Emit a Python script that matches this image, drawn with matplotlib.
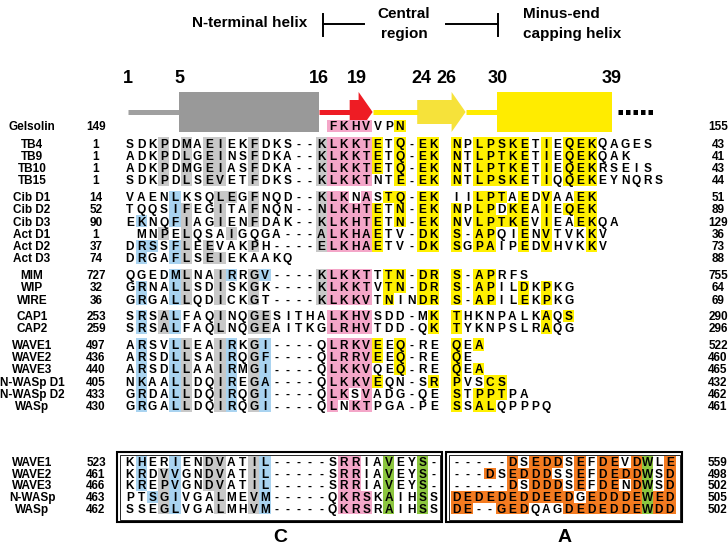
import matplotlib
matplotlib.use("Agg")
import matplotlib.pyplot as plt
from matplotlib.patches import Rectangle, Polygon

plt.rcParams['font.family'] = ['Liberation Sans', 'DejaVu Sans']

# Secondary structure of TB4 (residue numbers shown above the cartoon)
ss_marks = [1, 5, 16, 19, 24, 26, 30, 39]

# Upper alignment
up_names = ["Gelsolin", "TB4", "TB9", "TB10", "TB15",
            "Cib D1", "Cib D2", "Cib D3", "Act D1", "Act D2", "Act D3",
            "MIM", "WIP", "WIRE", "CAP1", "CAP2",
            "WAVE1", "WAVE2", "WAVE3", "N-WASp D1", "N-WASp D2", "WASp"]
up_block = [0, 1, 1, 1, 1, 2, 2, 2, 2, 2, 2, 3, 3, 3, 4, 4, 5, 5, 5, 5, 5, 5]
up_start = [149, 1, 1, 1, 1, 14, 52, 90, 1, 37, 74, 727, 32, 36, 253, 259,
            497, 436, 440, 405, 433, 430]
up_end = [155, 43, 41, 43, 44, 51, 89, 129, 36, 73, 88, 755, 64, 69, 290, 296,
          522, 460, 465, 432, 462, 461]
up_seqs = [
    "                  FKHVVPN",
    "SDKPDMAEIEKFDKS--KLKKTETQ-EK NPLPSKETIEQEKQAGES",
    "ADKPDLGEINSFDKA--KLKKTETQ-EK NTLPTKETIEQEKQAK",
    "ADKPDMGEIASFDKA--KLKKTETQ-EK NTLPTKETIEQEKRSEIS",
    "SDKPDLSEVETFDKS--KLKKTNTE-EK NTLPSKETIQQEKEYNQRS",
    "VAENLKSQLEGFNQD--KLKNASTQ-EK IILPTAEDVAAEK",
    "TQQSIFEGITAFNQN--NLKHTETN-EK NPLPDKEAIEQEK",
    "EKNQFIAGIENFDAK--KLKHTETN-EK NVLPTKEVIEAEKQA",
    " MNPELQSAIGQGA---ALKHAETV-DK S-APQIENVTVKKV",
    "DRSSFLEEVAKPH----ELKHAETV-DK SGPAIPEDVHVKKV",
    "DRGAFLSEIEKAAKQ",
    "QGEDMLNAIRRGV----KLKKTTTN-DR S-APRFS",
    "GRNALLSDISKGK----KLKKTVTN-DR S-APILDKPKG",
    "GRGALLQDICKGT----KLKKVTNINDR S-APILEKPKG",
    "SRSALFAQINQGESITHALKHVSDD-MK THKNPALKAQS",
    "SRSALFAQLNQGEAITKGLRHVTDD-QK TYKNPSLRAQG",
    "ARSVLLEAIRKGI----QLRKVEEQ-RE QEA",
    "ARSDLLSAIRQGF----QLRRVEEQ-RE QE",
    "ARSDLLAAIRMGI----QLKKVQEQ-RE QEA",
    "NKAALLDQIREGA----QLKKVEQN-SR PVSCS",
    "GRDALLDQIRQGI----QLKSVADG-QE STPPTPA",
    "GRGALLDQIRQGI----QLNKTPGA-PE SSALQPPPQ",
]
# shading: g grey, b blue, p pink, y yellow, G green, o orange
up_masks = [
    "..................pppp..y",
    "...g.g.gg..g.....gppppy.y.yy.y.yyyyy.y.yyy",
    "...g.g.gg..g.....gppppy.y.yy.y.yyyyy.y.yyy",
    "...g.g.gg..g.....gppppy.y.yy.y.yyyyy.y.yyy",
    "...g.g.gg..g.....gpppp..y.yy.y.yyyyy.y.yyy",
    "....b...gg.g.....gpp.p.yy.yy...yyy.y.y..yy",
    "....bg..g..g.....gppppy.y.yy.y.yy.yy.y.yyy",
    ".b..bg..g..g.....gppppy.y.yy.y.yyyyy.y..yy",
    "...g.g...g.......gppppy...yy.y.yy..y.y...y",
    ".bb.bg.g...g.....gppppy...yy.y.yy..y.y...y",
    ".b..bg.gg",
    "....bg..gb.gb....gpppp.yy.yy.y.yy",
    ".b..bg..g..g.....gpppp.yy.yy.y.yy..y.y",
    ".b..bg..g..g.....gpppp.y..yy.y.yy..y.y",
    ".b.gb...g..gg.....pppp.....y.y.......y.y",
    ".b.gb...g..gg.....pppp.....y.y.......y",
    ".b..bg..gb.gb.....ppppy.y....y.y",
    ".b..bg..gb.gb.....ppppy.y....y",
    ".b..bg..gb.gb.....pppp..y....y.y",
    ".b..bg..gb.gb.....ppppy....y.y..yy",
    ".b..bg..gb.gb.....pp.p.......y.yyy",
    ".b..bg..gb.gb.....p.pp.......y.yy",
]

# Lower alignment (C and A regions)
low_names = ["WAVE1", "WAVE2", "WAVE3", "N-WASp", "WASp"]
low_start = [523, 461, 466, 463, 462]
low_end = [559, 498, 502, 505, 502]
c_seqs = ["KHERIENDVATIL-----SRRIAVEYS-",
          "KRDVVGNDVATIL-----SRRIAVEYS-",
          "KREPVGNDVATIL-----SRRIAVEYS-",
          "PTSGIVGALMEVM-----QKRSKAIHSS",
          "SSEGLVGALMHVM-----QKRSRAIHSS"]
c_masks = [".b..b..gg..gb......pp..G..G.",
           ".b.gb..gg..gb......pp..G..G.",
           ".b.gb..gg..gb......pp..G..G.",
           "..bgb...g..gb......ppp.G..G.",
           "...gb...g..gb......ppp.G..G."]
a_seqs = ["-----DSEDDSEFDEVDWLE",
          "---DSEDDDSSEFDEDDWSD",
          "-----DSDDDSEFDENDWSD",
          "DEDEDEDDEEDGEDDDEWED",
          "DE--GEDQAGDEDEDDEWDD"]
a_masks = [".....o.ooo.o.oo.oG.o",
           "...o.oooo..o.ooooG.o",
           ".....o.ooo.o.oo.oG.o",
           "ooooooooooo.oooooGoo",
           "oo..ooo...oooooooGoo"]

COLORS = {'g': '#c8c8c8', 'b': '#a9d3f0', 'p': '#f4a6c8', 'y': '#fff000',
          'G': '#8cc63f', 'o': '#f47b20'}

X0, DX = 130.0, 11.25
SEQ_FS = 8.6
LAB_FS = 8.5

fig = plt.figure(figsize=(7.28, 5.48), dpi=100)
ax = fig.add_axes([0, 0, 1, 1])
ax.set_xlim(0, 728)
ax.set_ylim(548, 0)
ax.axis('off')


def draw_row(seq, mask, y, col0, h):
    for i, ch in enumerate(seq):
        x = X0 + (col0 + i) * DX
        code = mask[i] if i < len(mask) else '.'
        if code != '.':
            ax.add_patch(Rectangle((x - DX / 2, y - h / 2), DX, h,
                                   facecolor=COLORS[code], edgecolor='none', zorder=1))
        if ch != ' ':
            ax.text(x, y + 4.2, ch, ha='center', va='baseline', fontsize=SEQ_FS,
                    fontweight='bold', zorder=3)


def label_row(name, start, end, y):
    ax.text(32, y + 4.2, name, ha='center', va='baseline', fontsize=LAB_FS, fontweight='bold')
    ax.text(96, y + 4.2, str(start), ha='center', va='baseline', fontsize=LAB_FS, fontweight='bold')
    ax.text(718, y + 4.2, str(end), ha='center', va='baseline', fontsize=LAB_FS, fontweight='bold')


# ---- secondary structure cartoon ----
def rx(r):
    return 128 + (r - 1) * 12.74

yc = 112
for r in ss_marks:
    ax.text(rx(r), 83, str(r), ha='center', va='baseline', fontsize=13, fontweight='bold')

ax.plot([rx(1), rx(5)], [yc, yc], color='#a0a0a0', lw=3.6, solid_capstyle='butt')
ax.add_patch(Rectangle((rx(5), 92), rx(16) - rx(5), 40, facecolor='#999999', edgecolor='none'))
ax.plot([rx(16), rx(18.5)], [yc, yc], color='#ee1c24', lw=3.6, solid_capstyle='butt')
ax.add_patch(Polygon([(rx(18.4), 100), (rx(19.1), 100), (rx(19.1), 92), (rx(20.2), yc),
                      (rx(19.1), 132), (rx(19.1), 124), (rx(18.4), 124)],
                     closed=True, facecolor='#ee1c24', edgecolor='none'))
ax.plot([rx(20.2), rx(23.8)], [yc, yc], color='#ffec00', lw=3.6, solid_capstyle='butt')
ax.add_patch(Polygon([(rx(23.7), 100), (rx(26.4), 100), (rx(26.4), 92), (rx(27.5), yc),
                      (rx(26.4), 132), (rx(26.4), 124), (rx(23.7), 124)],
                     closed=True, facecolor='#f6e23a', edgecolor='none'))
ax.plot([rx(27.5), rx(30)], [yc, yc], color='#ffec00', lw=3.6, solid_capstyle='butt')
ax.add_patch(Rectangle((rx(30), 92), rx(39) - rx(30), 40, facecolor='#ffec00', edgecolor='none'))
ax.plot([rx(39.5), rx(42.2)], [yc, yc], color='black', lw=3.6, linestyle=(0, (0.9, 0.6)),
        solid_capstyle='butt')

# region titles and bracket
ax.text(250, 23, "N-terminal helix", ha='center', va='center', fontsize=11, fontweight='bold')
ax.text(404, 24, "Central\nregion", ha='center', va='center', fontsize=11, fontweight='bold',
        linespacing=1.6)
ax.text(523, 24, "Minus-end\ncapping helix", ha='left', va='center', fontsize=11,
        fontweight='bold', linespacing=1.6)
ax.plot([323, 323], [14, 36], color='black', lw=1.4)
ax.plot([323, 364], [24, 24], color='black', lw=1.4)
ax.plot([446, 498], [24, 24], color='black', lw=1.4)
ax.plot([498, 498], [14, 36], color='black', lw=1.4)

# ---- upper alignment ----
y = 126.0
prev = up_block[0]
for k in range(len(up_names)):
    if k > 0:
        if up_block[k] == prev:
            y += 12.3
        elif prev == 0:
            y += 17.3
        else:
            y += 16.5
    prev = up_block[k]
    draw_row(up_seqs[k], up_masks[k], y, 0, 12.3)
    label_row(up_names[k], up_start[k], up_end[k], y)

# ---- lower alignment ----
for k in range(len(low_names)):
    y = 461.7 + k * 11.7
    draw_row(c_seqs[k], c_masks[k], y, 0, 11.7)
    draw_row(a_seqs[k], a_masks[k], y, 29, 11.7)
    label_row(low_names[k], low_start[k], low_end[k], y)

for (x1, x2) in [(117, 442), (446, 682)]:
    ax.add_patch(Rectangle((x1, 452), x2 - x1, 70, fill=False, edgecolor='black', lw=1.5, zorder=4))
    ax.add_patch(Rectangle((x1 + 2.5, 454.5), x2 - x1 - 5, 65, fill=False, edgecolor='black',
                           lw=0.6, zorder=4))

ax.text(280, 538, "C", ha='center', va='center', fontsize=14, fontweight='bold')
ax.text(565, 538, "A", ha='center', va='center', fontsize=14, fontweight='bold')

fig.savefig("out.png", dpi=100)
